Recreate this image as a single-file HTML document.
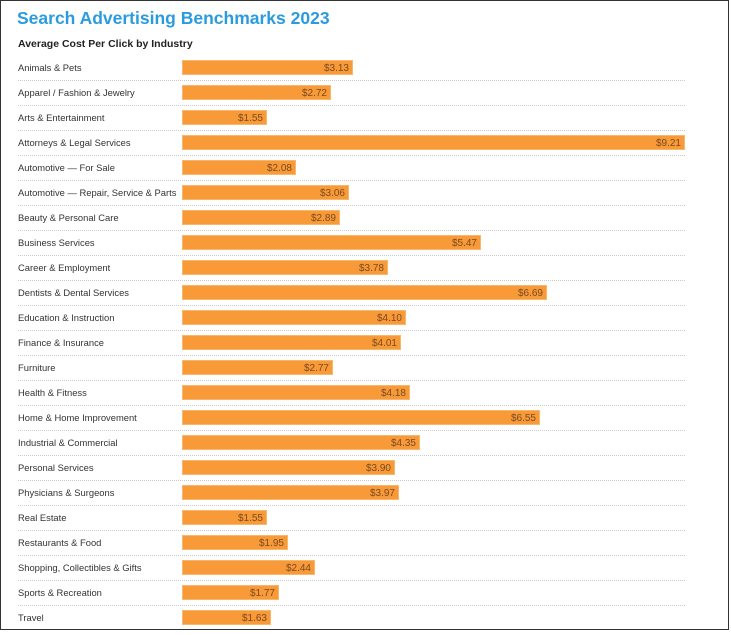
<!DOCTYPE html>
<html><head><meta charset="utf-8"><style>
body{margin:0;width:731px;height:633px;background:#fff;font-family:"Liberation Sans",sans-serif;position:relative;overflow:hidden}
.frame{position:absolute;left:0;top:0;width:727px;height:628px;border:1px solid #333}
.t{position:absolute;left:17px;top:8px;font-size:17.5px;font-weight:bold;color:#2b9be0}
.s{position:absolute;left:18px;top:38px;font-size:10.5px;font-weight:bold;color:#222}
.r{position:absolute;left:0;width:731px;height:25px}
.l{position:absolute;left:18px;top:0;line-height:15px;font-size:9.4px;color:#333;white-space:nowrap}
.b{position:absolute;left:182px;top:0;height:15px;background:#f89a38;box-sizing:border-box;border:1px solid #f6b86c}
.v{position:absolute;right:3px;top:1px;line-height:14px;font-size:10px;color:#7a4a22}
.sep{position:absolute;left:18px;width:667px;top:20px;border-top:1px dotted #ccc}
</style></head><body>
<div class="frame"></div>
<div class="t">Search Advertising Benchmarks 2023</div>
<div class="s">Average Cost Per Click by Industry</div>
<div id="c"></div>
<script>
var d=[["Animals & Pets",3.13],["Apparel / Fashion & Jewelry",2.72],["Arts & Entertainment",1.55],["Attorneys & Legal Services",9.21],["Automotive — For Sale",2.08],["Automotive — Repair, Service & Parts",3.06],["Beauty & Personal Care",2.89],["Business Services",5.47],["Career & Employment",3.78],["Dentists & Dental Services",6.69],["Education & Instruction",4.10],["Finance & Insurance",4.01],["Furniture",2.77],["Health & Fitness",4.18],["Home & Home Improvement",6.55],["Industrial & Commercial",4.35],["Personal Services",3.90],["Physicians & Surgeons",3.97],["Real Estate",1.55],["Restaurants & Food",1.95],["Shopping, Collectibles & Gifts",2.44],["Sports & Recreation",1.77],["Travel",1.63]];
var h="";
d.forEach(function(x,i){var y=60+i*25;var w=Math.round(x[1]*503/9.21);
h+='<div class="r" style="top:'+y+'px"><div class="l">'+x[0].replace(/&/g,"&amp;")+'</div><div class="b" style="width:'+w+'px"><span class="v">$'+x[1].toFixed(2)+'</span></div>'+(i<22?'<div class="sep"></div>':'')+'</div>';});
document.getElementById("c").innerHTML=h;
</script>
</body></html>
